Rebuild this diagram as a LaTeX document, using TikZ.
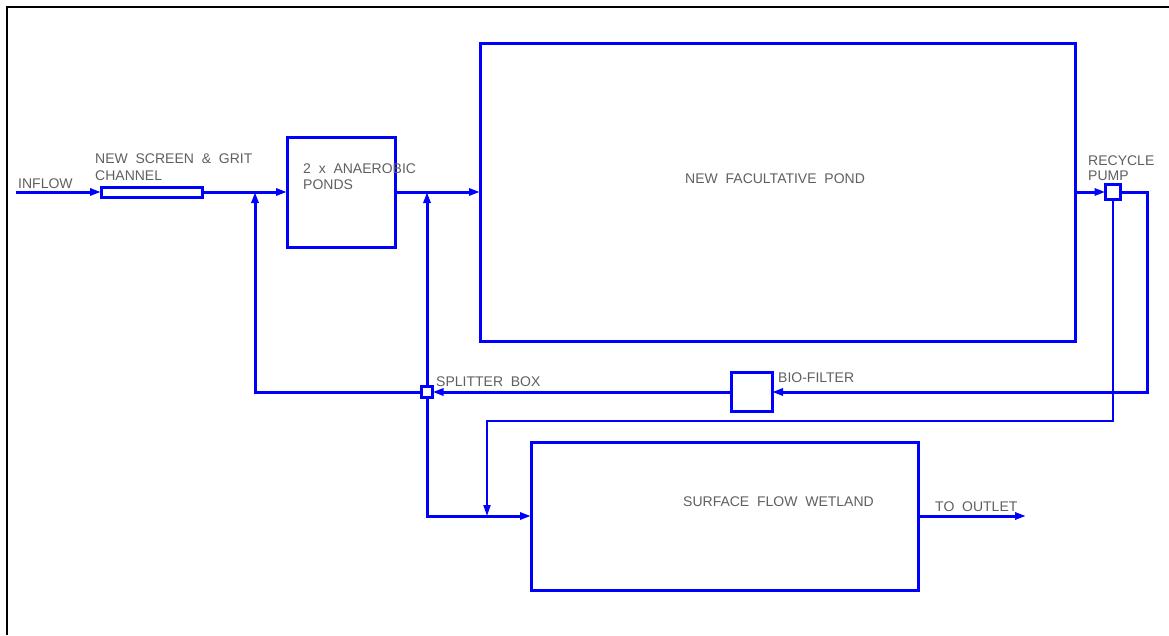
\documentclass[tikz,border=0pt]{standalone}
\usepackage{fontspec}
\newfontfamily\cadfont{Liberation Sans}[WordSpace=2.0]
\usetikzlibrary{arrows.meta}
\definecolor{cadblue}{RGB}{0,0,255}
\definecolor{cadgray}{RGB}{95,95,95}
\begin{document}
\begin{tikzpicture}[x=1pt,y=-1pt,
  unit/.style={draw=cadblue,line width=3pt,rectangle,inner sep=0pt,outer sep=0pt},
  flow/.style={draw=cadblue,line width=3pt,-{Triangle[length=11pt,width=7pt]}},
  flowthin/.style={draw=cadblue,line width=2pt,-{Triangle[length=11pt,width=7pt]}},
  lbl/.style={text=cadgray,font=\cadfont\fontsize{14}{16}\selectfont,inner sep=0pt,anchor=base west},
  frame/.style={draw=black,line width=2pt}]
\useasboundingbox (0,0) rectangle (1169,635);
% frame
\draw[frame] (1169,7) -- (7,7) -- (7,635);
% units
\node[unit,minimum width=101pt,minimum height=10pt] (screen) at (151.5,192) {};
\node[unit,minimum width=108pt,minimum height=110pt] (anaer) at (341,192) {};
\node[unit,minimum width=595pt,minimum height=298pt] (fac) at (777.5,192) {};
\node[unit,minimum width=15pt,minimum height=15pt] (pump) at (1113,192) {};
\node[unit,minimum width=41pt,minimum height=39pt] (bio) at (751.5,392) {};
\node[unit,minimum width=11pt,minimum height=11pt] (split) at (427,392) {};
\node[unit,minimum width=387pt,minimum height=148pt] (wet) at (724.5,516) {};
% coordinates
\coordinate (in) at (16,192);
\coordinate (rc) at (1147,300);
\coordinate (lj) at (255,192);
\coordinate (mj) at (427,192);
\coordinate (pc) at (1113,421);
\coordinate (pj) at (487,516);
\coordinate (out) at (1026,516);
% connectors
\draw[flow] (in) -- (screen.west);
\draw[flow] (screen.east) -- (anaer.west);
\draw[flow] (anaer.east) -- (fac.west);
\draw[flow] (fac.east) -- (pump.west);
\draw[flow] (pump.east) -| (rc) |- (bio.east);
\draw[flow] (bio.west) -- (split.east);
\draw[flow] (split.west) -| (lj);
\draw[flow] (split.north) -- (mj);
\draw[flow] (split.south) |- (wet.west);
\draw[flowthin] (pump.south) -- (pc) -| (pj);
\draw[flow] (wet.east) -- (out);
% labels
\node[lbl] (tin) at (18,188) {INFLOW};
\node[lbl] (tsc1) at (95,163) {NEW SCREEN \& GRIT};
\node[lbl] (tsc2) at (95,180) {CHANNEL};
\node[lbl] (tan1) at (303,173) {2 x ANAEROBIC};
\node[lbl] (tan2) at (303,189) {PONDS};
\node[lbl] (tfac) at (685,183) {NEW FACULTATIVE POND};
\node[lbl] (trp1) at (1088,165) {RECYCLE};
\node[lbl] (trp2) at (1088,180) {PUMP};
\node[lbl] (tsp) at (436,386) {SPLITTER BOX};
\node[lbl] (tbio) at (778,382) {BIO-FILTER};
\node[lbl] (twet) at (683,506) {SURFACE FLOW WETLAND};
\node[lbl] (tout) at (935,511) {TO OUTLET};
\end{tikzpicture}
\end{document}
